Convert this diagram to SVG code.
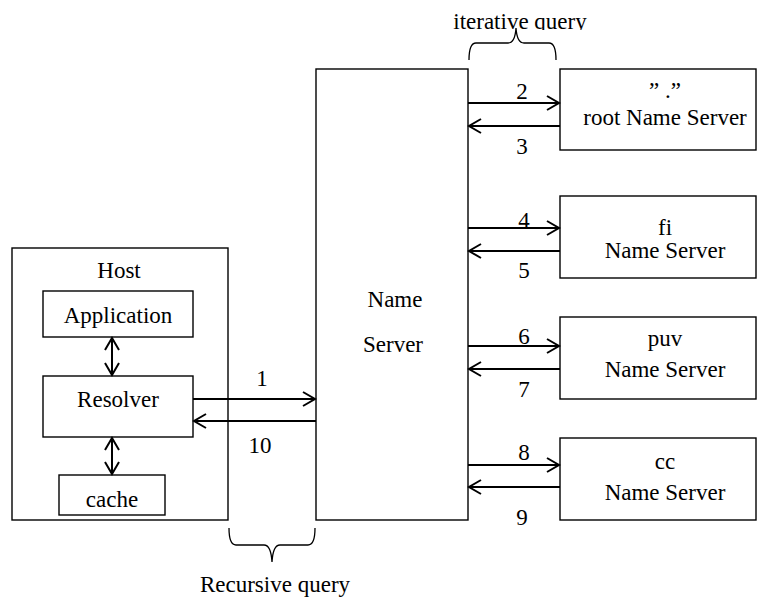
<svg xmlns="http://www.w3.org/2000/svg" width="758" height="599" viewBox="0 0 758 599">
<defs>
<style>
.box{fill:#fff;stroke:#000;stroke-width:1.4}
.t{font-family:"Liberation Serif","Times New Roman",serif;font-size:23px;fill:#000;text-anchor:middle}
.ar{stroke:#000;stroke-width:2;fill:none}
.br{stroke:#000;stroke-width:1.3;fill:none}
</style>
<marker id="h" markerWidth="16" markerHeight="16" refX="13" refY="8" orient="auto-start-reverse" markerUnits="userSpaceOnUse">
<path d="M1,1 L13,8 L1,15" fill="none" stroke="#000" stroke-width="2"/>
</marker>
<clipPath id="clipTop"><rect x="0" y="0" width="758" height="30"/></clipPath>
</defs>
<rect width="758" height="599" fill="#fff"/>

<g id="host">
<rect class="box" x="12" y="248" width="216" height="272"/>
<text class="t" x="119" y="278">Host</text>
</g>
<g id="application">
<rect class="box" x="43" y="291" width="150" height="46"/>
<text class="t" x="118" y="323">Application</text>
</g>
<g id="resolver">
<rect class="box" x="43" y="376" width="150" height="61"/>
<text class="t" x="118" y="407">Resolver</text>
</g>
<g id="cache">
<rect class="box" x="59" y="475" width="106" height="40"/>
<text class="t" x="112" y="507">cache</text>
</g>
<g id="nameserver">
<rect class="box" x="316" y="69" width="152" height="451"/>
<text class="t" x="395" y="307">Name</text>
<text class="t" x="393" y="352">Server</text>
</g>
<g id="root">
<rect class="box" x="560" y="69" width="196" height="81"/>
<text class="t" x="665" y="98">” .”</text>
<text class="t" x="665" y="125">root Name Server</text>
</g>
<g id="fi">
<rect class="box" x="560" y="196" width="196" height="82"/>
<text class="t" x="665" y="235">fi</text>
<text class="t" x="665" y="258">Name Server</text>
</g>
<g id="puv">
<rect class="box" x="560" y="317" width="196" height="82"/>
<text class="t" x="665" y="346">puv</text>
<text class="t" x="665" y="377">Name Server</text>
</g>
<g id="cc">
<rect class="box" x="560" y="438" width="196" height="82"/>
<text class="t" x="665" y="469">cc</text>
<text class="t" x="665" y="500">Name Server</text>
</g>

<g id="connectors">
<line class="ar" x1="112" y1="338" x2="112" y2="375" marker-start="url(#h)" marker-end="url(#h)"/>
<line class="ar" x1="112" y1="438" x2="112" y2="474" marker-start="url(#h)" marker-end="url(#h)"/>
<line class="ar" x1="193" y1="399" x2="315" y2="399" marker-end="url(#h)"/>
<line class="ar" x1="316" y1="421" x2="194" y2="421" marker-end="url(#h)"/>
<line class="ar" x1="468" y1="103" x2="559" y2="103" marker-end="url(#h)"/>
<line class="ar" x1="560" y1="126" x2="469" y2="126" marker-end="url(#h)"/>
<line class="ar" x1="468" y1="228" x2="559" y2="228" marker-end="url(#h)"/>
<line class="ar" x1="560" y1="251" x2="469" y2="251" marker-end="url(#h)"/>
<line class="ar" x1="468" y1="346" x2="559" y2="346" marker-end="url(#h)"/>
<line class="ar" x1="560" y1="369" x2="469" y2="369" marker-end="url(#h)"/>
<line class="ar" x1="468" y1="465" x2="559" y2="465" marker-end="url(#h)"/>
<line class="ar" x1="560" y1="487" x2="469" y2="487" marker-end="url(#h)"/>
<text class="t" x="262" y="386">1</text>
<text class="t" x="260" y="453">10</text>
<text class="t" x="522" y="99">2</text>
<text class="t" x="522" y="154">3</text>
<text class="t" x="524" y="228">4</text>
<text class="t" x="524" y="278">5</text>
<text class="t" x="524" y="344">6</text>
<text class="t" x="524" y="397">7</text>
<text class="t" x="524" y="460">8</text>
<text class="t" x="522" y="525">9</text>
<path class="br" d="M229,528 Q229,545 236,545 L264,545 Q271,545 272,562 Q273,545 280,545 L308,545 Q315,545 315,528"/>
<path class="br" d="M469,60 Q469,43 476,43 L508,43 Q515,43 516,28 Q517,43 524,43 L549,43 Q556,43 556,60"/>
<text class="t" x="275" y="592">Recursive query</text>
<text class="t" x="520" y="29" clip-path="url(#clipTop)">iterative query</text>
</g>
</svg>
